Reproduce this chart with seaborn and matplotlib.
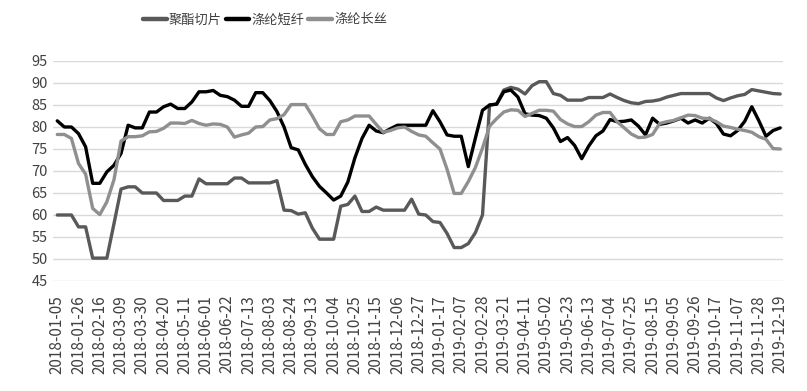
import matplotlib
matplotlib.use("Agg")
import matplotlib.pyplot as plt
import pandas as pd
import seaborn as sns

tick_labels = ['2018-01-05', '2018-01-26', '2018-02-16', '2018-03-09', '2018-03-30',
               '2018-04-20', '2018-05-11', '2018-06-01', '2018-06-22', '2018-07-13',
               '2018-08-03', '2018-08-24', '2018-09-13', '2018-10-04', '2018-10-25',
               '2018-11-15', '2018-12-06', '2018-12-27', '2019-01-17', '2019-02-07',
               '2019-02-28', '2019-03-21', '2019-04-11', '2019-05-02', '2019-05-23',
               '2019-06-13', '2019-07-04', '2019-07-25', '2019-08-15', '2019-09-05',
               '2019-09-26', '2019-10-17', '2019-11-07', '2019-11-28', '2019-12-19']

series_names = ['聚酯切片', '涤纶短纤', '涤纶长丝']

chip = [60, 60, 60, 57.3, 57.3, 50.2, 50.2, 50.2, 58, 65.9,
        66.4, 66.4, 65, 65, 65, 63.3, 63.3, 63.3, 64.3, 64.3,
        68.2, 67.1, 67.1, 67.1, 67.1, 68.4, 68.4, 67.3, 67.3, 67.3,
        67.3, 67.8, 61.1, 61, 60.2, 60.5, 57, 54.5, 54.5, 54.5,
        62, 62.4, 64.3, 60.8, 60.8, 61.8, 61.1, 61.1, 61.1, 61.1,
        63.6, 60.2, 60, 58.5, 58.3, 55.8, 52.6, 52.6, 53.5, 56,
        60, 85, 85.2, 88.4, 89, 88.6, 87.5, 89.4, 90.3, 90.3,
        87.6, 87.2, 86.1, 86.1, 86.1, 86.7, 86.7, 86.7, 87.5, 86.7,
        86, 85.5, 85.3, 85.8, 85.9, 86.2, 86.8, 87.2, 87.6, 87.6,
        87.6, 87.6, 87.6, 86.6, 86, 86.6, 87.1, 87.4, 88.5, 88.2,
        87.9, 87.6, 87.5]

staple = [81.4, 80, 80, 78.5, 75.5, 67.2, 67.2, 69.8, 71.3, 74,
          80.4, 79.8, 79.8, 83.4, 83.4, 84.6, 85.2, 84.2, 84.2, 85.7,
          88, 88, 88.3, 87.2, 86.9, 86.1, 84.7, 84.7, 87.8, 87.8,
          86, 83.5, 80, 75.3, 74.8, 71.5, 68.7, 66.5, 65, 63.4,
          64.3, 67.5, 73, 77.4, 80.4, 79.1, 78.7, 79.6, 80.4, 80.4,
          80.4, 80.4, 80.4, 83.7, 81.2, 78.2, 77.9, 77.9, 71, 77.5,
          83.8, 85, 85.2, 88, 88.4, 86.8, 83, 82.7, 82.6, 82,
          79.8, 76.7, 77.6, 75.8, 72.8, 75.7, 78, 79.1, 81.7, 81.2,
          81.3, 81.6, 80.2, 78.2, 82, 80.6, 80.9, 81.4, 82, 80.9,
          81.6, 80.9, 82, 80.8, 78.4, 78, 79.2, 81.3, 84.6, 81.4,
          77.9, 79.2, 79.8]

filament = [78.3, 78.3, 77.4, 71.7, 69.3, 61.5, 60.1, 63, 68, 76.8,
            77.8, 77.8, 78, 78.9, 79, 79.7, 80.9, 80.9, 80.8, 81.5,
            80.8, 80.4, 80.7, 80.6, 80, 77.7, 78.2, 78.6, 80, 80.1,
            81.6, 81.9, 82.8, 85.1, 85.1, 85.1, 82.5, 79.6, 78.3, 78.3,
            81.2, 81.6, 82.5, 82.5, 82.5, 80.6, 78.8, 79.2, 79.8, 80,
            79, 78.2, 77.9, 76.4, 75, 70.4, 64.9, 64.9, 67.6, 70.8,
            75.2, 80.2, 81.9, 83.4, 83.9, 83.8, 82.4, 83.1, 83.8, 83.8,
            83.6, 81.7, 80.7, 80.1, 80.1, 81.2, 82.7, 83.3, 83.3, 81.2,
            79.8, 78.4, 77.6, 77.7, 78.3, 80.8, 81.2, 81.5, 82.1, 82.7,
            82.6, 82, 81.9, 81.2, 80.2, 79.9, 79.5, 79.2, 78.8, 77.8,
            77.2, 75.1, 75]

n = len(chip)
df = pd.DataFrame({
    'idx': list(range(n)) * 3,
    'value': chip + staple + filament,
    'series': [series_names[0]] * n + [series_names[1]] * n + [series_names[2]] * n,
})

sns.set_theme(style='white')
plt.rcParams['font.family'] = ['Noto Sans CJK SC', 'DejaVu Sans']

W, H = 807, 391
fig = plt.figure(figsize=(W / 100, H / 100), dpi=100)
ax = fig.add_axes([53 / W, 1 - 281 / H, (783 - 53) / W, 220 / H])

palette = {series_names[0]: '#595959', series_names[1]: '#000000', series_names[2]: '#8f8f8f'}
sns.lineplot(data=df, x='idx', y='value', hue='series', hue_order=series_names,
             palette=palette, linewidth=2.4, ax=ax, legend=True)

handles, labels = ax.get_legend_handles_labels()
ax.get_legend().remove()
for h in handles:
    h.set_linewidth(3.2)
fig.legend(handles, labels, loc='center', bbox_to_anchor=(265 / W, 1 - 20 / H),
           ncol=3, frameon=False, fontsize=9.5, handlelength=1.8,
           handletextpad=0.15, columnspacing=0.3, labelcolor='#404040')

ax.set_xlim(-0.6, n - 0.6)
ax.set_ylim(45, 95)
ax.set_yticks(range(45, 96, 5))
ax.set_xticks(range(0, n, 3))
ax.set_xticklabels(tick_labels, rotation=90)
ax.tick_params(axis='x', length=0, pad=10, labelsize=11, labelcolor='#404040')
ax.tick_params(axis='y', length=0, pad=4, labelsize=10.5, labelcolor='#404040')
ax.yaxis.grid(True, color='#d9d9d9', linewidth=1)
ax.xaxis.grid(False)
for s in ax.spines.values():
    s.set_visible(False)
ax.set_xlabel('')
ax.set_ylabel('')

fig.savefig('out.png', dpi=100)
